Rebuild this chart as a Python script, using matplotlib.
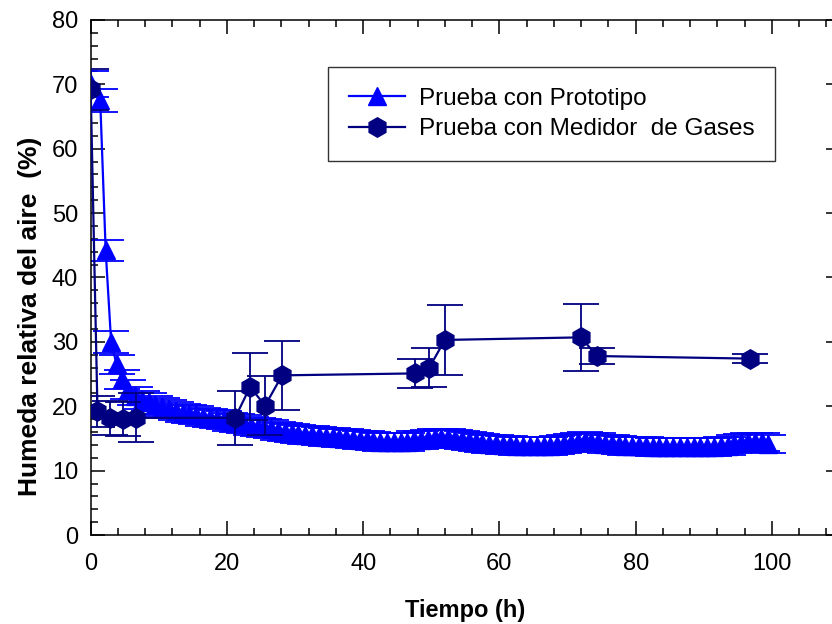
import matplotlib
matplotlib.use("Agg")
import matplotlib.pyplot as plt
from matplotlib.ticker import MultipleLocator

plt.rcParams['font.family'] = ['Liberation Sans', 'DejaVu Sans']

# -------------------------
# Data: Prueba con Prototipo
# -------------------------
proto_t = [0.0, 1.4, 2.2, 3.0, 3.8, 4.6, 5.5,
           6.5, 7.5, 8.5, 9.5, 10.5, 11.5, 12.5, 13.5, 14.5, 15.5, 16.5, 17.5, 18.5, 19.5,
           20.5, 21.5, 22.5, 23.5, 24.5, 25.5, 26.5, 27.5, 28.5, 29.5,
           30.5, 31.5, 32.5, 33.5, 34.5, 35.5, 36.5, 37.5, 38.5, 39.5,
           40.5, 41.5, 42.5, 43.5, 44.5, 45.5, 46.5, 47.5, 48.5, 49.5,
           50.5, 51.5, 52.5, 53.5, 54.5, 55.5, 56.5, 57.5, 58.5, 59.5,
           60.5, 61.5, 62.5, 63.5, 64.5, 65.5, 66.5, 67.5, 68.5, 69.5,
           70.5, 71.5, 72.5, 73.5, 74.5, 75.5, 76.5, 77.5, 78.5, 79.5,
           80.5, 81.5, 82.5, 83.5, 84.5, 85.5, 86.5, 87.5, 88.5, 89.5,
           90.5, 91.5, 92.5, 93.5, 94.5, 95.5, 96.5, 97.5, 98.5, 99.5]
proto_hr = [70.0, 67.5, 44.2, 30.0, 26.5, 24.2, 22.6,
            21.6, 21.0, 20.6, 20.2, 19.9, 19.6, 19.3, 19.0, 18.8, 18.6, 18.4, 18.2, 18.0, 17.8,
            17.6, 17.4, 17.2, 17.0, 16.8, 16.6, 16.4, 16.2, 16.0, 15.9,
            15.7, 15.6, 15.5, 15.4, 15.3, 15.2, 15.1, 15.0, 14.9, 14.8,
            14.7, 14.6, 14.5, 14.4, 14.4, 14.4, 14.5, 14.7, 14.8, 14.9,
            15.0, 15.0, 15.0, 14.9, 14.8, 14.6, 14.5, 14.3, 14.2, 14.1,
            14.0, 14.0, 13.9, 13.9, 13.8, 13.8, 13.8, 13.9, 14.0, 14.1,
            14.3, 14.5, 14.6, 14.5, 14.4, 14.2, 14.1, 14.0, 13.9, 13.9,
            13.8, 13.8, 13.7, 13.7, 13.6, 13.6, 13.6, 13.6, 13.6, 13.6,
            13.6, 13.7, 13.8, 13.9, 14.1, 14.3, 14.5, 14.5, 14.4, 14.2]
proto_err = [2.0, 1.8, 1.6, 1.7, 1.5, 1.5, 1.5] + [1.4] * 94

# -------------------------
# Data: Prueba con Medidor de Gases
# -------------------------
gas_t = [0.0, 1.0, 2.9, 4.8, 6.7, 21.2, 23.4, 25.6, 28.1, 47.6, 49.7, 52.0, 72.0, 74.3, 96.8]
gas_hr = [69.2, 19.2, 18.2, 18.0, 18.2, 18.2, 23.0, 20.1, 24.8, 25.1, 26.0, 30.3, 30.7, 27.8, 27.4]
gas_err = [3.2, 2.4, 2.6, 2.6, 3.8, 4.2, 5.2, 4.6, 5.4, 2.3, 3.0, 5.5, 5.2, 1.2, 0.7]

BLUE = "#0000FF"
NAVY = "#000080"

fig = plt.figure(figsize=(8.32, 6.24), dpi=100)
ax = fig.add_axes([0.109, 0.1426, 0.9006, 0.8254])

ax.errorbar(proto_t, proto_hr, yerr=proto_err, color=BLUE, marker="^",
            markersize=13, linewidth=1.6, elinewidth=1.3, capsize=13,
            capthick=1.3, label="Prueba con Prototipo", zorder=2)
ax.errorbar(gas_t, gas_hr, yerr=gas_err, color=NAVY, marker="h",
            markersize=14, linewidth=1.6, elinewidth=1.3, capsize=13,
            capthick=1.3, label="Prueba con Medidor  de Gases", zorder=3)

ax.set_xlim(0, 110)
ax.set_ylim(0, 80)
ax.xaxis.set_major_locator(MultipleLocator(20))
ax.xaxis.set_minor_locator(MultipleLocator(4))
ax.yaxis.set_major_locator(MultipleLocator(10))
ax.yaxis.set_minor_locator(MultipleLocator(2))

ax.tick_params(which="both", direction="in", top=True, right=True,
               width=1.1, labelsize=17)
ax.tick_params(which="major", length=10)
ax.tick_params(which="minor", length=5)
ax.tick_params(axis="x", pad=13)
ax.tick_params(axis="y", pad=9)
for sp in ax.spines.values():
    sp.set_linewidth(1.1)

fig.text(465 / 832, 1 - 610 / 624, "Tiempo (h)", ha="center", va="center",
         fontsize=17, fontweight="bold")
fig.text(30 / 832, 1 - 316 / 624, "Humeda relativa del aire  (%)", ha="center",
         va="center", rotation=90, fontsize=19, fontweight="bold")

# legend without the error bars in the handles
handles, labels = ax.get_legend_handles_labels()
handles = [h[0] for h in handles]
leg = ax.legend(handles, labels, loc="upper left",
                bbox_to_anchor=(328 / 832, 1 - 67 / 624),
                bbox_transform=fig.transFigure, fontsize=17.5, frameon=True,
                fancybox=False, shadow=False, handlelength=2.3,
                handletextpad=0.6, labelspacing=0.35, borderpad=0.85,
                borderaxespad=0)
leg.get_frame().set_edgecolor("black")
leg.get_frame().set_linewidth(1.0)

fig.savefig("out.png", dpi=100)
